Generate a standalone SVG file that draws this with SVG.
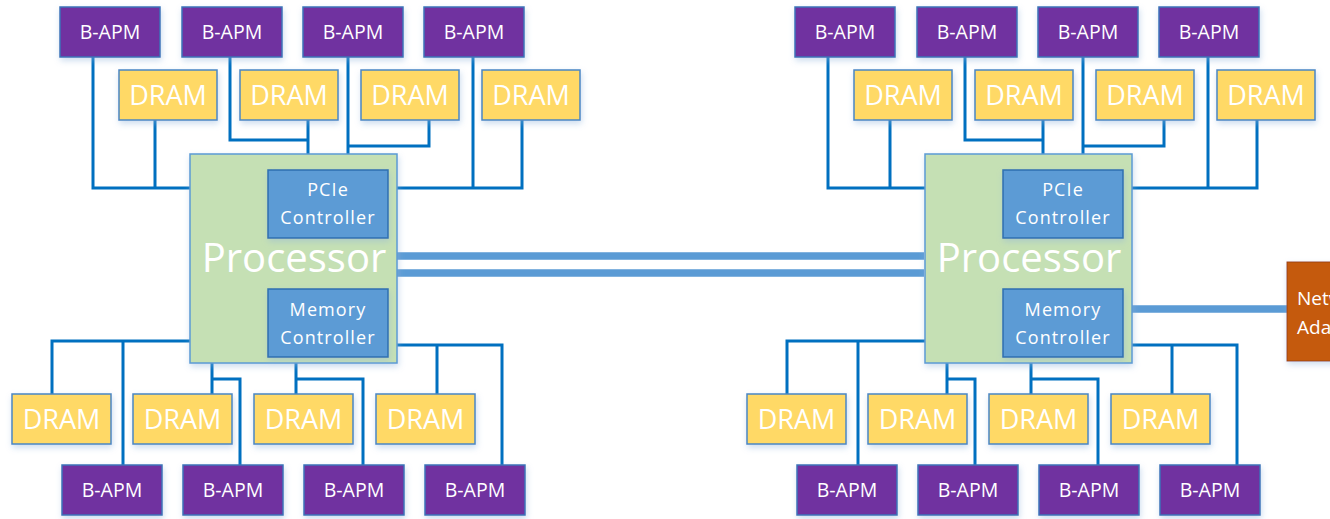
<svg xmlns="http://www.w3.org/2000/svg" width="1330" height="519" viewBox="0 0 1330 519">
<defs>
<filter id="sh" x="-20%" y="-20%" width="140%" height="150%">
<feDropShadow dx="1" dy="3" stdDeviation="3" flood-color="#8fb4dc" flood-opacity="0.45"/>
</filter>
<style>
.bapm{fill:#7030A0;stroke:#3b73b9;stroke-width:1.5;filter:url(#sh)}
.dram{fill:#FFD966;stroke:#4a86c5;stroke-width:1.5;filter:url(#sh)}
.proc{fill:#C5E0B4;stroke:#5b9bd5;stroke-width:1.5;filter:url(#sh)}
.ctrl{fill:#5B9BD5;stroke:#2e6fb0;stroke-width:1.5;filter:url(#sh)}
.net{fill:#C55A11;stroke:#9c4510;stroke-width:1;filter:url(#sh)}
text{fill:#fff;font-family:"Open Sans","Liberation Sans",sans-serif;text-anchor:middle}
.tb{font-size:19.5px}
.td{font-size:27px}
.tc{font-size:18px;letter-spacing:1.1px}
.tp{font-size:40px}
.tn{font-size:19px;text-anchor:start}
.c{fill:none;stroke:#0070C0;stroke-width:3}
.link{fill:none;stroke:#5B9BD5;stroke-width:7.5}
</style>
</defs>
<rect width="1330" height="519" fill="#fff"/>

<g id="connectors">
<path class="link" d="M397,256 H924 M397,273 H924 M1132,309 H1287"/>
<g id="conn-left">
<path class="c" d="M93,57 V188 H190 M155,120 V188"/>
<path class="c" d="M230,57 V140 H308 M308,120 V154"/>
<path class="c" d="M348,57 V154 M429,120 V146 H348"/>
<path class="c" d="M473,57 V188 M522,120 V188 H397"/>
<path class="c" d="M190,341 H52 V394 M123,341 V465"/>
<path class="c" d="M212,363 V394 M212,379 H240 V465"/>
<path class="c" d="M296,363 V394 M296,379 H363 V465"/>
<path class="c" d="M397,345 H502 V465 M437,345 V394"/>
</g>
<g id="conn-right" transform="translate(735,0)">
<path class="c" d="M93,57 V188 H190 M155,120 V188"/>
<path class="c" d="M230,57 V140 H308 M308,120 V154"/>
<path class="c" d="M348,57 V154 M429,120 V146 H348"/>
<path class="c" d="M473,57 V188 M522,120 V188 H397"/>
<path class="c" d="M190,341 H52 V394 M123,341 V465"/>
<path class="c" d="M212,363 V394 M212,379 H240 V465"/>
<path class="c" d="M296,363 V394 M296,379 H363 V465"/>
<path class="c" d="M397,345 H502 V465 M437,345 V394"/>
</g>
</g>

<!-- Left side -->
<g id="L-bapm-t1"><rect class="bapm" x="60" y="7" width="100" height="50"/><text class="tb" x="110" y="39">B-APM</text></g>
<g id="L-bapm-t2"><rect class="bapm" x="182" y="7" width="100" height="50"/><text class="tb" x="232" y="39">B-APM</text></g>
<g id="L-bapm-t3"><rect class="bapm" x="303" y="7" width="100" height="50"/><text class="tb" x="353" y="39">B-APM</text></g>
<g id="L-bapm-t4"><rect class="bapm" x="424" y="7" width="100" height="50"/><text class="tb" x="474" y="39">B-APM</text></g>
<g id="L-dram-t1"><rect class="dram" x="119" y="70" width="98" height="50"/><text class="td" x="168" y="105">DRAM</text></g>
<g id="L-dram-t2"><rect class="dram" x="240" y="70" width="98" height="50"/><text class="td" x="289" y="105">DRAM</text></g>
<g id="L-dram-t3"><rect class="dram" x="361" y="70" width="98" height="50"/><text class="td" x="410" y="105">DRAM</text></g>
<g id="L-dram-t4"><rect class="dram" x="482" y="70" width="98" height="50"/><text class="td" x="531" y="105">DRAM</text></g>

<g id="L-processor">
<rect class="proc" x="190" y="154" width="207" height="209"/>
<text class="tp" x="294" y="272">Processor</text>
</g>
<g id="L-pcie"><rect class="ctrl" x="268" y="170" width="120" height="68"/><text class="tc" x="328" y="196">PCIe</text><text class="tc" x="328" y="224">Controller</text></g>
<g id="L-mem"><rect class="ctrl" x="268" y="289" width="120" height="68"/><text class="tc" x="328" y="316">Memory</text><text class="tc" x="328" y="344">Controller</text></g>

<g id="L-dram-b1"><rect class="dram" x="12" y="394" width="99" height="50"/><text class="td" x="61.5" y="429">DRAM</text></g>
<g id="L-dram-b2"><rect class="dram" x="133" y="394" width="99" height="50"/><text class="td" x="182.5" y="429">DRAM</text></g>
<g id="L-dram-b3"><rect class="dram" x="254" y="394" width="99" height="50"/><text class="td" x="303.5" y="429">DRAM</text></g>
<g id="L-dram-b4"><rect class="dram" x="376" y="394" width="99" height="50"/><text class="td" x="425.5" y="429">DRAM</text></g>
<g id="L-bapm-b1"><rect class="bapm" x="62" y="465" width="100" height="50"/><text class="tb" x="112" y="497">B-APM</text></g>
<g id="L-bapm-b2"><rect class="bapm" x="183" y="465" width="100" height="50"/><text class="tb" x="233" y="497">B-APM</text></g>
<g id="L-bapm-b3"><rect class="bapm" x="304" y="465" width="100" height="50"/><text class="tb" x="354" y="497">B-APM</text></g>
<g id="L-bapm-b4"><rect class="bapm" x="425" y="465" width="100" height="50"/><text class="tb" x="475" y="497">B-APM</text></g>

<!-- Right side -->
<g id="R-bapm-t1"><rect class="bapm" x="795" y="7" width="100" height="50"/><text class="tb" x="845" y="39">B-APM</text></g>
<g id="R-bapm-t2"><rect class="bapm" x="917" y="7" width="100" height="50"/><text class="tb" x="967" y="39">B-APM</text></g>
<g id="R-bapm-t3"><rect class="bapm" x="1038" y="7" width="100" height="50"/><text class="tb" x="1088" y="39">B-APM</text></g>
<g id="R-bapm-t4"><rect class="bapm" x="1159" y="7" width="100" height="50"/><text class="tb" x="1209" y="39">B-APM</text></g>
<g id="R-dram-t1"><rect class="dram" x="854" y="70" width="98" height="50"/><text class="td" x="903" y="105">DRAM</text></g>
<g id="R-dram-t2"><rect class="dram" x="975" y="70" width="98" height="50"/><text class="td" x="1024" y="105">DRAM</text></g>
<g id="R-dram-t3"><rect class="dram" x="1096" y="70" width="98" height="50"/><text class="td" x="1145" y="105">DRAM</text></g>
<g id="R-dram-t4"><rect class="dram" x="1217" y="70" width="98" height="50"/><text class="td" x="1266" y="105">DRAM</text></g>

<g id="R-processor">
<rect class="proc" x="925" y="154" width="207" height="209"/>
<text class="tp" x="1029" y="272">Processor</text>
</g>
<g id="R-pcie"><rect class="ctrl" x="1003" y="170" width="120" height="68"/><text class="tc" x="1063" y="196">PCIe</text><text class="tc" x="1063" y="224">Controller</text></g>
<g id="R-mem"><rect class="ctrl" x="1003" y="289" width="120" height="68"/><text class="tc" x="1063" y="316">Memory</text><text class="tc" x="1063" y="344">Controller</text></g>

<g id="R-dram-b1"><rect class="dram" x="747" y="394" width="99" height="50"/><text class="td" x="796.5" y="429">DRAM</text></g>
<g id="R-dram-b2"><rect class="dram" x="868" y="394" width="99" height="50"/><text class="td" x="917.5" y="429">DRAM</text></g>
<g id="R-dram-b3"><rect class="dram" x="989" y="394" width="99" height="50"/><text class="td" x="1038.5" y="429">DRAM</text></g>
<g id="R-dram-b4"><rect class="dram" x="1111" y="394" width="99" height="50"/><text class="td" x="1160.5" y="429">DRAM</text></g>
<g id="R-bapm-b1"><rect class="bapm" x="797" y="465" width="100" height="50"/><text class="tb" x="847" y="497">B-APM</text></g>
<g id="R-bapm-b2"><rect class="bapm" x="918" y="465" width="100" height="50"/><text class="tb" x="968" y="497">B-APM</text></g>
<g id="R-bapm-b3"><rect class="bapm" x="1039" y="465" width="100" height="50"/><text class="tb" x="1089" y="497">B-APM</text></g>
<g id="R-bapm-b4"><rect class="bapm" x="1160" y="465" width="100" height="50"/><text class="tb" x="1210" y="497">B-APM</text></g>

<g id="network-adapter">
<rect class="net" x="1287" y="262" width="100" height="99"/>
<text class="tn" x="1297" y="305">Network</text>
<text class="tn" x="1297" y="334">Adapter</text>
</g>
</svg>
